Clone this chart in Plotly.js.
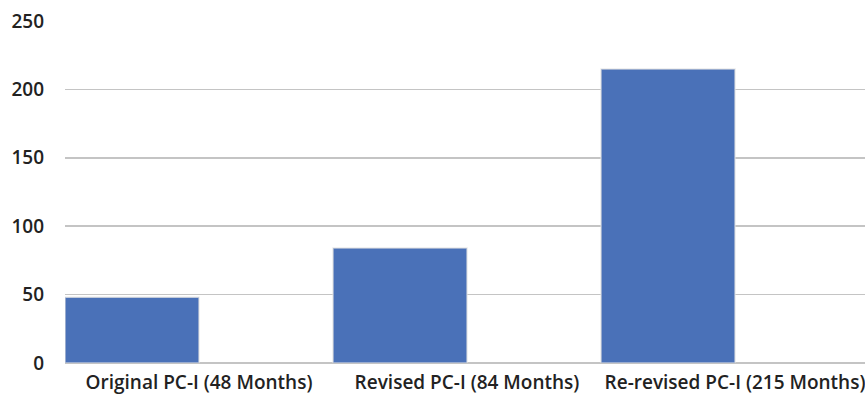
<!DOCTYPE html>
<html>
<head>
<meta charset="utf-8">
<script src="https://cdn.plot.ly/plotly-3.0.1.min.js"></script>
<style>html,body{margin:0;padding:0;background:#fff;}#chart{width:865px;height:394px;}</style>
</head>
<body>
<div id="chart"></div>
<script>
const categories = ["Original PC-I (48 Months)", "Revised PC-I (84 Months)", "Re-revised PC-I (215 Months)"];
const months = [48, 84, 215];
const yTicks = [0, 50, 100, 150, 200, 250];

const trace = {
  type: 'bar',
  x: categories,
  y: months,
  width: 0.5,
  offset: -0.5,
  marker: {color: '#4a71b8', line: {color: 'rgba(225,225,225,0.7)', width: 1.5}},
  hoverinfo: 'x+y'
};

const layout = {
  width: 865,
  height: 394,
  margin: {l: 65, r: 0, t: 21, b: 31},
  paper_bgcolor: '#ffffff',
  plot_bgcolor: '#ffffff',
  showlegend: false,
  font: {family: 'Open Sans, sans-serif', color: '#222222', size: 18},
  xaxis: {
    type: 'category',
    range: [-0.5, 2.485],
    showgrid: false,
    showline: false,
    zeroline: false,
    ticks: '',
    tickfont: {size: 19, family: 'Open Sans, sans-serif', weight: 600, color: '#222222'},
    ticklabelstandoff: 6
  },
  yaxis: {
    range: [0, 250],
    tickvals: yTicks,
    ticktext: yTicks.map(String),
    showgrid: true,
    gridcolor: '#c4c4c4',
    gridwidth: 1.5,
    zeroline: true,
    zerolinecolor: '#c4c4c4',
    zerolinewidth: 1.5,
    showline: false,
    ticks: '',
    tickfont: {size: 19, family: 'Open Sans, sans-serif', weight: 600, color: '#222222'},
    ticklabelstandoff: 20
  }
};

Plotly.newPlot('chart', [trace], layout, {displayModeBar: false, staticPlot: true});
</script>
</body>
</html>
